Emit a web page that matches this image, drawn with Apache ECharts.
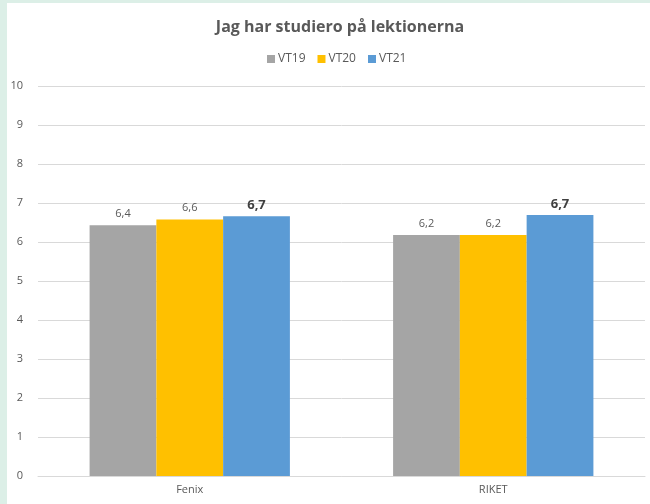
<!DOCTYPE html>
<html>
<head>
<meta charset="utf-8">
<script src="https://cdn.jsdelivr.net/npm/echarts@6/dist/echarts.min.js"></script>
<style>
  html, body { margin: 0; padding: 0; background: #dcefe7; }
  #main { position: absolute; left: 7px; top: 3px; width: 643px; height: 501px; background: #ffffff; }
</style>
</head>
<body>
<div id="main"></div>
<script>
// kategorier och värden
var categories = ['Fenix', 'RIKET'];
var seriesNames = ['VT19', 'VT20', 'VT21'];
var vt19 = [6.43, 6.18];
var vt20 = [6.58, 6.18];
var vt21 = [6.66, 6.69];
var colors = ['#a5a5a5', '#ffc000', '#5b9bd5'];

var chart = echarts.init(document.getElementById('main'));

// etiketter med en decimal och komma
function fmt(p) {
  return p.value.toFixed(1).replace('.', ',');
}

var normalLabel = { show: true, position: 'top', distance: 6, color: '#595959', fontSize: 11, fontFamily: 'Open Sans', formatter: fmt };
var boldLabel = { show: true, position: 'top', distance: 4, color: '#404040', fontSize: 13, fontWeight: 'bold', fontFamily: 'Open Sans', formatter: fmt };

var option = {
  animation: false,
  title: {
    text: 'Jag har studiero på lektionerna',
    left: 328,
    textAlign: 'center',
    top: 11,
    textStyle: { fontSize: 16, fontWeight: 'bold', color: '#595959', fontFamily: 'Open Sans' }
  },
  legend: {
    data: seriesNames,
    top: 45,
    left: 255,
    itemWidth: 8,
    itemHeight: 8,
    itemGap: 12,
    icon: 'rect',
    textStyle: { fontSize: 12, color: '#595959', fontFamily: 'Open Sans', padding: [0, 0, 0, -2] }
  },
  grid: { left: 31, right: 5, top: 83, bottom: 28, containLabel: false },
  xAxis: {
    type: 'category',
    data: categories,
    axisLine: { lineStyle: { color: '#d9d9d9' } },
    axisTick: { show: false },
    axisLabel: { color: '#595959', fontSize: 11, fontFamily: 'Open Sans', margin: 8 }
  },
  yAxis: {
    type: 'value',
    min: 0,
    max: 10,
    interval: 1,
    axisLine: { show: false },
    axisTick: { show: false },
    axisLabel: { color: '#595959', fontSize: 11, fontFamily: 'Open Sans', margin: 15 },
    splitLine: { lineStyle: { color: '#d9d9d9' } }
  },
  series: [
    { name: seriesNames[0], type: 'bar', data: vt19, itemStyle: { color: colors[0] }, barGap: '0%', barCategoryGap: '34%', label: normalLabel },
    { name: seriesNames[1], type: 'bar', data: vt20, itemStyle: { color: colors[1] }, barGap: '0%', barCategoryGap: '34%', label: normalLabel },
    { name: seriesNames[2], type: 'bar', data: vt21, itemStyle: { color: colors[2] }, barGap: '0%', barCategoryGap: '34%', label: boldLabel }
  ]
};

chart.setOption(option);
</script>
</body>
</html>
